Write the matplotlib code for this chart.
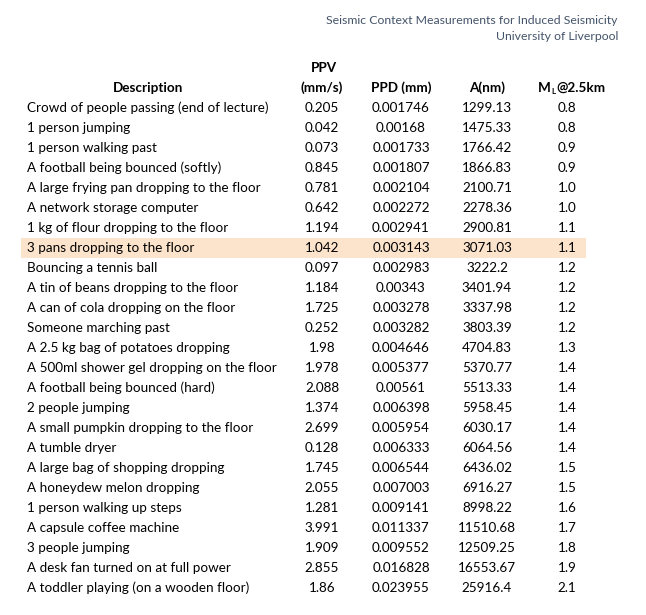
import matplotlib.pyplot as plt
from matplotlib.patches import Rectangle

plt.rcParams['font.family'] = ['Lato', 'DejaVu Sans']

# table content
descriptions = [
    "Crowd of people passing (end of lecture)",
    "1 person jumping",
    "1 person walking past",
    "A football being bounced (softly)",
    "A large frying pan dropping to the floor",
    "A network storage computer",
    "1 kg of flour dropping to the floor",
    "3 pans dropping to the floor",
    "Bouncing a tennis ball",
    "A tin of beans dropping to the floor",
    "A can of cola dropping on the floor",
    "Someone marching past",
    "A 2.5 kg bag of potatoes dropping",
    "A 500ml shower gel dropping on the floor",
    "A football being bounced (hard)",
    "2 people jumping",
    "A small pumpkin dropping to the floor",
    "A tumble dryer",
    "A large bag of shopping dropping",
    "A honeydew melon dropping",
    "1 person walking up steps",
    "A capsule coffee machine",
    "3 people jumping",
    "A desk fan turned on at full power",
    "A toddler playing (on a wooden floor)",
]
ppv = ["0.205", "0.042", "0.073", "0.845", "0.781", "0.642", "1.194", "1.042",
       "0.097", "1.184", "1.725", "0.252", "1.98", "1.978", "2.088", "1.374",
       "2.699", "0.128", "1.745", "2.055", "1.281", "3.991", "1.909", "2.855",
       "1.86"]
ppd = ["0.001746", "0.00168", "0.001733", "0.001807", "0.002104", "0.002272",
       "0.002941", "0.003143", "0.002983", "0.00343", "0.003278", "0.003282",
       "0.004646", "0.005377", "0.00561", "0.006398", "0.005954", "0.006333",
       "0.006544", "0.007003", "0.009141", "0.011337", "0.009552", "0.016828",
       "0.023955"]
amp = ["1299.13", "1475.33", "1766.42", "1866.83", "2100.71", "2278.36",
       "2900.81", "3071.03", "3222.2", "3401.94", "3337.98", "3803.39",
       "4704.83", "5370.77", "5513.33", "5958.45", "6030.17", "6064.56",
       "6436.02", "6916.27", "8998.22", "11510.68", "12509.25", "16553.67",
       "25916.4"]
ml = ["0.8", "0.8", "0.9", "0.9", "1.0", "1.0", "1.1", "1.1", "1.2", "1.2",
      "1.2", "1.2", "1.3", "1.4", "1.4", "1.4", "1.4", "1.4", "1.5", "1.5",
      "1.6", "1.7", "1.8", "1.9", "2.1"]
highlight = "3 pans dropping to the floor"

fig = plt.figure(figsize=(6.46, 6.15), dpi=100)
ax = fig.add_axes([0, 0, 1, 1])
ax.set_xlim(0, 646)
ax.set_ylim(615, 0)
ax.axis("off")

fs = 9.7
row0, step = 108, 20
col_x = [322, 401, 487, 567]

# title
ax.text(618, 20, "Seismic Context Measurements for Induced Seismicity",
        ha="right", va="center", fontsize=8.8, color="#44546A")
ax.text(618, 37, "University of Liverpool",
        ha="right", va="center", fontsize=8.8, color="#44546A")

# header
ax.text(148, 88, "Description", ha="center", va="center", fontsize=fs, fontweight="bold")
ax.text(col_x[0] + 2, 68, "PPV", ha="center", va="center", fontsize=fs, fontweight="bold")
ax.text(col_x[0], 88, "(mm/s)", ha="center", va="center", fontsize=fs, fontweight="bold")
ax.text(col_x[1], 88, "PPD (mm)", ha="center", va="center", fontsize=fs, fontweight="bold")
ax.text(col_x[2], 88, "A(nm)", ha="center", va="center", fontsize=fs, fontweight="bold")
ax.text(551, 88, "M", ha="right", va="center", fontsize=fs, fontweight="bold")
ax.text(551, 91, "L", ha="left", va="center", fontsize=fs * 0.6, fontweight="bold")
ax.text(556, 88, "@2.5km", ha="left", va="center", fontsize=fs, fontweight="bold")

for i, desc in enumerate(descriptions):
    y = row0 + step * i
    if desc == highlight:
        ax.add_patch(Rectangle((21, y - 10), 565, 20, facecolor="#FCE4CC",
                               edgecolor="none", zorder=0))
    ax.text(27, y, desc, ha="left", va="center", fontsize=fs)
    for x, val in zip(col_x, (ppv[i], ppd[i], amp[i], ml[i])):
        ax.text(x, y, val, ha="center", va="center", fontsize=fs)

fig.savefig("out.png", dpi=100, facecolor="white")
